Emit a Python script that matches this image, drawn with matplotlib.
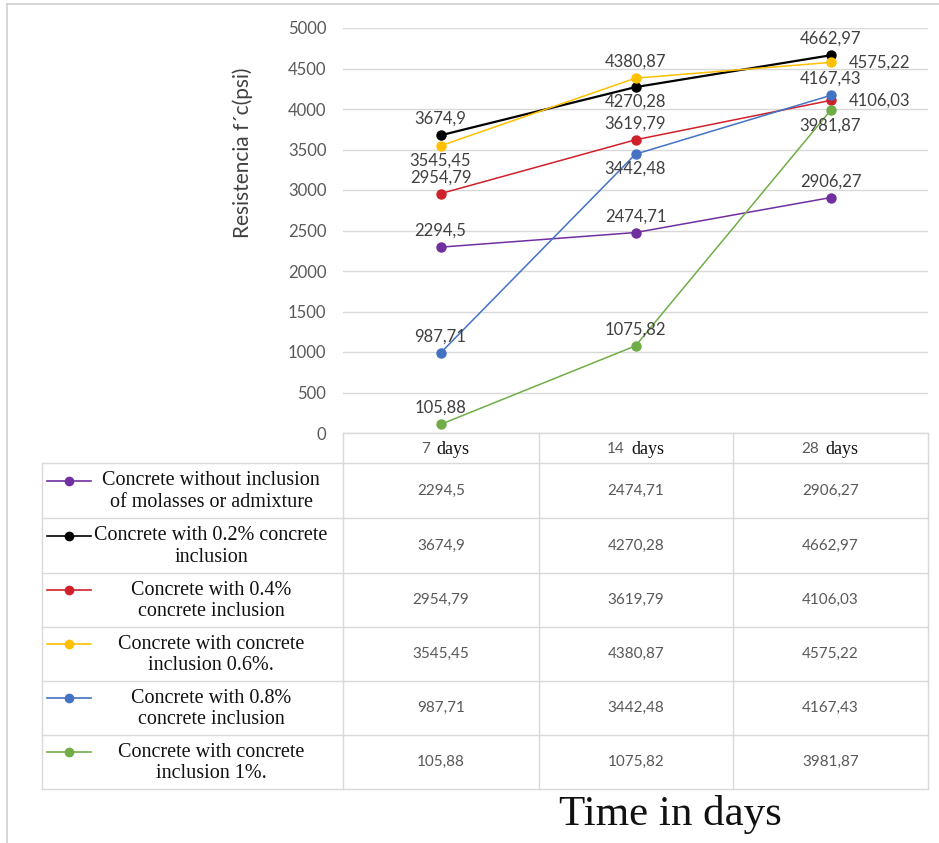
import matplotlib
matplotlib.use("Agg")
import matplotlib.pyplot as plt
from matplotlib.lines import Line2D

# Data
days = ["7", "14", "28"]
series_names = [
    "Concrete without inclusion\nof molasses or admixture",
    "Concrete with 0.2% concrete\ninclusion",
    "Concrete with 0.4%\nconcrete inclusion",
    "Concrete with concrete\ninclusion 0.6%.",
    "Concrete with 0.8%\nconcrete inclusion",
    "Concrete with concrete\ninclusion 1%.",
]
no_molasses = [2294.5, 2474.71, 2906.27]
inc_02 = [3674.9, 4270.28, 4662.97]
inc_04 = [2954.79, 3619.79, 4106.03]
inc_06 = [3545.45, 4380.87, 4575.22]
inc_08 = [987.71, 3442.48, 4167.43]
inc_10 = [105.88, 1075.82, 3981.87]
all_values = [no_molasses, inc_02, inc_04, inc_06, inc_08, inc_10]
y_ticks = [0, 500, 1000, 1500, 2000, 2500, 3000, 3500, 4000, 4500, 5000]

colors = ["#7030A0", "#000000", "#D0202A", "#FFC000", "#4472C4", "#70AD47"]
# where each data label sits relative to its point
label_pos = [
    ["above", "above", "above"],
    ["above", "below", "above"],
    ["above", "above", "right"],
    ["below", "above", "right"],
    ["above", "below", "above"],
    ["above", "above", "below"],
]

W, H = 939, 843
SANS = "Lato"
SERIF = "Liberation Serif"
GRAY_LINE = "#D9D9D9"


def fx(x):
    return x / W


def fy(y):
    return 1 - y / H


def fmt(v):
    s = f"{v:.2f}".rstrip("0").rstrip(".")
    return s.replace(".", ",")


fig = plt.figure(figsize=(W / 100, H / 100), dpi=100)
fig.patch.set_facecolor("white")

# chart area
ax = fig.add_axes([fx(343), fy(433), fx(928) - fx(343), fy(28) - fy(433)])
ax.set_xlim(0, 3)
ax.set_ylim(0, 5000)
for sp in ax.spines.values():
    sp.set_visible(False)
ax.set_xticks([])
ax.set_yticks(y_ticks)
ax.set_yticklabels([str(t) for t in y_ticks], fontfamily=SANS, fontsize=12, color="#595959")
ax.tick_params(axis="y", length=0, pad=12)
ax.grid(axis="y", color=GRAY_LINE, linewidth=1)
ax.set_axisbelow(True)

xs = [0.5, 1.5, 2.5]
for i, vals in enumerate(all_values):
    lw = 1.6 if colors[i] == "#000000" else 1.1
    ax.plot(xs, vals, color=colors[i], linewidth=lw, marker="o", markersize=7.5,
            markeredgewidth=0, clip_on=False, zorder=3)
    for j, v in enumerate(vals):
        pos = label_pos[i][j]
        if pos == "above":
            off, ha, va = (0, 6), "center", "bottom"
        elif pos == "below":
            off, ha, va = (0, -5), "center", "top"
        else:
            off, ha, va = (13, 0), "left", "center"
        ax.annotate(fmt(v), (xs[j], v), xytext=off, textcoords="offset points",
                    ha=ha, va=va, fontfamily=SANS, fontsize=12, color="#404040", zorder=4)

# y label
fig.text(fx(243), fy(153), "Resistencia f´c(psi)", rotation=90, ha="center", va="center",
         fontfamily=SANS, fontsize=15, color="#404040")

# outer frame
fig.add_artist(Line2D([fx(7), fx(7)], [fy(4), 0], color="#D0D0D0", linewidth=1.2))
fig.add_artist(Line2D([fx(7), 1], [fy(4), fy(4)], color="#D0D0D0", linewidth=1.2))

# data table under the chart
col_x = [42, 343, 539, 733, 928]
row_y = [463, 518, 573, 627, 681, 735, 789]
header_top = 433

for y in row_y:
    fig.add_artist(Line2D([fx(col_x[0]), fx(col_x[-1])], [fy(y), fy(y)], color=GRAY_LINE, linewidth=1))
fig.add_artist(Line2D([fx(col_x[1]), fx(col_x[-1])], [fy(header_top), fy(header_top)], color=GRAY_LINE, linewidth=1))
fig.add_artist(Line2D([fx(col_x[0]), fx(col_x[0])], [fy(row_y[0]), fy(row_y[-1])], color=GRAY_LINE, linewidth=1))
for x in col_x[1:]:
    fig.add_artist(Line2D([fx(x), fx(x)], [fy(header_top), fy(row_y[-1])], color=GRAY_LINE, linewidth=1))

# header
for k, d in enumerate(days):
    cx = (col_x[k + 1] + col_x[k + 2]) / 2
    cy = (header_top + row_y[0]) / 2 + 1
    fig.text(fx(cx - 11), fy(cy), d, ha="right", va="center", fontfamily=SANS, fontsize=11, color="#595959")
    fig.text(fx(cx - 5), fy(cy + 1), "days", ha="left", va="center", fontfamily=SERIF, fontsize=13, color="#111111")

# rows
for i, name in enumerate(series_names):
    top, bot = row_y[i], row_y[i + 1]
    cy = (top + bot) / 2
    ly = cy - 10
    fig.add_artist(Line2D([fx(47), fx(91)], [fy(ly), fy(ly)], color=colors[i], linewidth=1.2))
    fig.add_artist(Line2D([fx(69)], [fy(ly)], color=colors[i], marker="o", markersize=7, markeredgewidth=0))
    fig.text(fx(211), fy(cy + 1), name, ha="center", va="center", multialignment="center",
             fontfamily=SERIF, fontsize=14.5, color="#111111", linespacing=1.15)
    for k, v in enumerate(all_values[i]):
        cx = (col_x[k + 1] + col_x[k + 2]) / 2
        fig.text(fx(cx), fy(cy), fmt(v), ha="center", va="center", fontfamily=SANS, fontsize=11, color="#595959")

fig.text(fx(670), fy(815), "Time in days", ha="center", va="center", fontfamily=SERIF, fontsize=31, color="#111111")

fig.savefig("out.png", dpi=100)
